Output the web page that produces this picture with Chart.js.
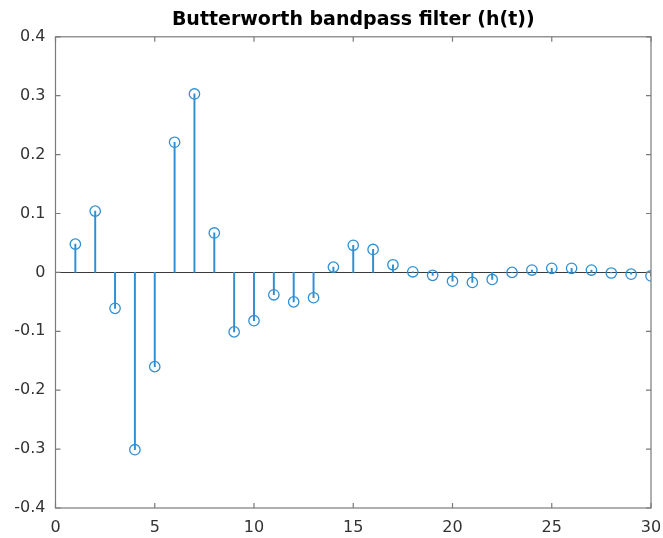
<!DOCTYPE html>
<html>
<head>
<meta charset="utf-8">
<script src="https://cdn.jsdelivr.net/npm/chart.js@4/dist/chart.umd.min.js"></script>
<style>
  html, body { margin: 0; padding: 0; background: #fff; }
  #wrap { width: 663px; height: 538px; }
</style>
</head>
<body>
<div id="wrap"><canvas id="c" width="663" height="538"></canvas></div>
<script>
// ---- data ----
const samples = [1,2,3,4,5,6,7,8,9,10,11,12,13,14,15,16,17,18,19,20,21,22,23,24,25,26,27,28,29,30];
const hValues = [0.048, 0.104, -0.061, -0.301, -0.160, 0.221, 0.303, 0.067, -0.101, -0.082,
                 -0.038, -0.050, -0.043, 0.009, 0.046, 0.039, 0.013, 0.001, -0.005, -0.015,
                 -0.017, -0.012, 0.000, 0.004, 0.007, 0.007, 0.004, -0.001, -0.003, -0.006];
const xTicks = [0, 5, 10, 15, 20, 25, 30];
const yTicks = [-0.4, -0.3, -0.2, -0.1, 0, 0.1, 0.2, 0.3, 0.4];
const titleText = 'Butterworth bandpass filter (h(t))';

const points = samples.map((s, i) => ({ x: s, y: hValues[i] }));
const stemColor = '#2f8fd2';
const axisColor = '#7a7a7a';
const textColor = '#333333';

const boxPlugin = {
  id: 'matlabBox',
  beforeDatasetsDraw(chart) {
    const { ctx, chartArea: a, scales } = chart;
    ctx.save();
    const y0 = Math.round(scales.y.getPixelForValue(0)) + 0.5;
    ctx.strokeStyle = '#3a3a3a';
    ctx.lineWidth = 1;
    ctx.beginPath();
    ctx.moveTo(a.left, y0);
    ctx.lineTo(a.right, y0);
    ctx.stroke();
    ctx.restore();
  },
  afterDraw(chart) {
    const { ctx, chartArea: a, scales } = chart;
    ctx.save();
    ctx.strokeStyle = axisColor;
    ctx.lineWidth = 1.2;
    ctx.strokeRect(a.left, a.top, a.right - a.left, a.bottom - a.top);
    const L = 5;
    ctx.beginPath();
    xTicks.forEach(v => {
      const px = scales.x.getPixelForValue(v);
      ctx.moveTo(px, a.bottom); ctx.lineTo(px, a.bottom - L);
      ctx.moveTo(px, a.top); ctx.lineTo(px, a.top + L);
    });
    yTicks.forEach(v => {
      const py = scales.y.getPixelForValue(v);
      ctx.moveTo(a.left, py); ctx.lineTo(a.left + L, py);
      ctx.moveTo(a.right, py); ctx.lineTo(a.right - L, py);
    });
    ctx.stroke();
    ctx.restore();
  }
};

new Chart(document.getElementById('c'), {
  type: 'bar',
  data: {
    datasets: [
      {
        type: 'scatter',
        label: 'h(t) markers',
        data: points,
        showLine: false,
        pointStyle: 'circle',
        pointRadius: 5.2,
        pointBorderWidth: 1.3,
        pointBorderColor: stemColor,
        pointBackgroundColor: 'rgba(0,0,0,0)',
        order: 0
      },
      {
        type: 'bar',
        label: 'h(t) stems',
        data: points,
        backgroundColor: stemColor,
        borderWidth: 0,
        barThickness: 1.3,
        grouped: false,
        order: 1
      }
    ]
  },
  plugins: [boxPlugin],
  options: {
    responsive: false,
    animation: false,
    devicePixelRatio: 1,
    layout: { padding: { left: 0, right: 12, top: 0, bottom: 0 } },
    plugins: {
      legend: { display: false },
      tooltip: { enabled: false },
      title: {
        display: true,
        fullSize: false,
        text: titleText,
        color: '#000',
        font: { family: 'DejaVu Sans', size: 19, weight: 'bold', lineHeight: 1.2 },
        padding: { top: 9, bottom: 5 }
      }
    },
    scales: {
      x: {
        type: 'linear',
        min: 0, max: 30,
        offset: false,
        afterFit(scale) { scale.height = 30; scale.paddingLeft = 0; scale.paddingRight = 0; },
        afterBuildTicks(scale) { scale.ticks = xTicks.map(v => ({ value: v })); },
        grid: { display: false, drawTicks: false, offset: false },
        border: { display: false },
        ticks: {
          color: textColor,
          font: { family: 'DejaVu Sans', size: 16 },
          padding: 10,
          maxRotation: 0,
          callback: v => String(v)
        }
      },
      y: {
        type: 'linear',
        min: -0.4, max: 0.4,
        afterFit(scale) { scale.width = 55.5; scale.paddingTop = 0; scale.paddingBottom = 0; },
        afterBuildTicks(scale) { scale.ticks = yTicks.map(v => ({ value: v })); },
        grid: { display: false, drawTicks: false },
        border: { display: false },
        ticks: {
          color: textColor,
          font: { family: 'DejaVu Sans', size: 16 },
          padding: 10,
          callback: v => (Math.abs(v) < 1e-9 ? '0' : Number(v).toFixed(1))
        }
      }
    }
  }
});
</script>
</body>
</html>
